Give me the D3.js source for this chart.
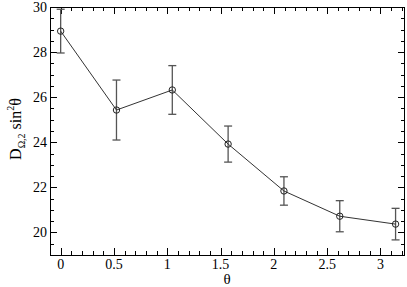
<!DOCTYPE html>
<html><head><meta charset="utf-8">
<script src="https://cdn.jsdelivr.net/npm/d3@7"></script>
<style>body{margin:0;background:#fff}svg{display:block}text{font-family:"Liberation Serif","DejaVu Serif",serif}</style>
</head><body><svg id="c" width="407" height="287"></svg>
<script>
const thetaLabels = ["0", "π/6", "π/3", "π/2", "2π/3", "5π/6", "π"];
const thetaValues = [0, Math.PI/6, Math.PI/3, Math.PI/2, 2*Math.PI/3, 5*Math.PI/6, Math.PI];
const dValues = [28.93, 25.43, 26.32, 23.92, 21.84, 20.72, 20.37];
const dErrors = [0.97, 1.33, 1.08, 0.80, 0.63, 0.69, 0.70];
const xTicks = [0, 0.5, 1, 1.5, 2, 2.5, 3];
const yTicks = [20, 22, 24, 26, 28, 30];

const svg = d3.select("#c");
const L = 50, R = 405, T = 7, B = 255;
const x = d3.scaleLinear().domain([-0.1, 3.23]).range([L, R]);
const y = d3.scaleLinear().domain([19, 30]).range([B, T]);

const xMinor = d3.range(-0.1, 3.23, 0.1).map(v => +v.toFixed(2)).filter(v => !xTicks.includes(v));
const yMinor = d3.range(19, 30.01, 0.5).filter(v => !yTicks.includes(v));

const g = svg.append("g").attr("stroke", "#000").attr("stroke-width", 1);
function tick(x1, y1, x2, y2) { g.append("line").attr("x1", x1).attr("y1", y1).attr("x2", x2).attr("y2", y2); }
xTicks.forEach(v => { const px = Math.round(x(v)) + 0.5; tick(px, B, px, B - 7); tick(px, T, px, T + 7); });
xMinor.forEach(v => { const px = Math.round(x(v)) + 0.5; tick(px, B, px, B - 4); tick(px, T, px, T + 4); });
yTicks.forEach(v => { const py = Math.round(y(v)) + 0.5; tick(L, py, L + 7, py); tick(R, py, R - 7, py); });
yMinor.forEach(v => { const py = Math.round(y(v)) + 0.5; tick(L, py, L + 4, py); tick(R, py, R - 4, py); });

svg.append("rect").attr("x", L + 0.5).attr("y", T + 0.5).attr("width", R - L - 1).attr("height", B - T)
  .attr("fill", "none").attr("stroke", "#000").attr("stroke-width", 1);

svg.append("g").selectAll("text").data(xTicks).join("text")
  .attr("x", d => x(d)).attr("y", 269).attr("text-anchor", "middle")
  .attr("font-size", 14).text(d => d);
svg.append("g").selectAll("text").data(yTicks).join("text")
  .attr("x", 47).attr("y", d => y(d) + 5).attr("text-anchor", "end")
  .attr("font-size", 14).text(d => d);

svg.append("text").attr("x", 227).attr("y", 284).attr("text-anchor", "middle")
  .attr("font-size", 15).text("θ");

const yl = svg.append("text").attr("transform", "translate(21,129) rotate(-90)")
  .attr("text-anchor", "middle").attr("font-size", 16);
yl.append("tspan").text("D");
yl.append("tspan").attr("font-size", 10).attr("dy", 4).text("Ω,2");
yl.append("tspan").attr("dy", -4).text(" sin");
yl.append("tspan").attr("font-size", 10).attr("dy", -7).text("2");
yl.append("tspan").attr("dy", 7).text("θ");

const data = thetaValues.map((t, i) => ({t, v: dValues[i], e: dErrors[i]}));

const eb = svg.append("g").attr("stroke", "#555").attr("stroke-width", 1.3);
data.forEach(d => {
  const px = x(d.t);
  eb.append("line").attr("x1", px).attr("x2", px).attr("y1", y(d.v + d.e)).attr("y2", y(d.v - d.e));
  eb.append("line").attr("x1", px - 4).attr("x2", px + 4).attr("y1", y(d.v + d.e)).attr("y2", y(d.v + d.e));
  eb.append("line").attr("x1", px - 4).attr("x2", px + 4).attr("y1", y(d.v - d.e)).attr("y2", y(d.v - d.e));
});

svg.append("path").datum(data)
  .attr("d", d3.line().x(d => x(d.t)).y(d => y(d.v)))
  .attr("fill", "none").attr("stroke", "#333").attr("stroke-width", 1);

svg.append("g").selectAll("circle").data(data).join("circle")
  .attr("cx", d => x(d.t)).attr("cy", d => y(d.v)).attr("r", 3.2)
  .attr("fill", "none").attr("stroke", "#222").attr("stroke-width", 1);
</script></body></html>
